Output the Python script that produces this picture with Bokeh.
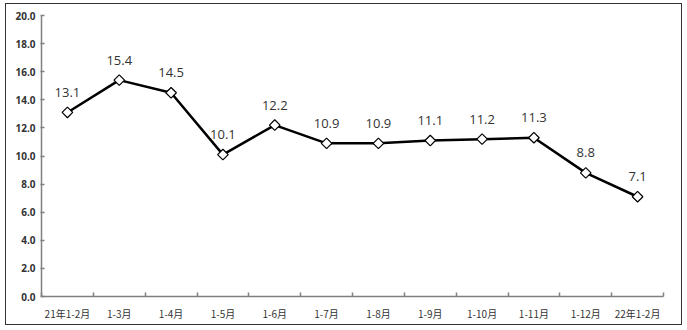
import math
from bokeh.plotting import figure
from bokeh.models import FixedTicker, Range1d, ColumnDataSource
from bokeh.embed import file_html
from bokeh.resources import INLINE
from bokeh.core.properties import value

categories = ["21年1-2月", "1-3月", "1-4月", "1-5月", "1-6月", "1-7月", "1-8月",
              "1-9月", "1-10月", "1-11月", "1-12月", "22年1-2月"]
values = [13.1, 15.4, 14.5, 10.1, 12.2, 10.9, 10.9, 11.1, 11.2, 11.3, 8.8, 7.1]
y_ticks = [0, 2, 4, 6, 8, 10, 12, 14, 16, 18, 20]

xs = [i + 0.5 for i in range(len(categories))]
labels = ["%.1f" % v for v in values]
src = ColumnDataSource(dict(x=xs, y=values, t=labels))

p = figure(width=677, height=322, output_backend="svg", toolbar_location=None,
           x_range=Range1d(0, len(categories)), y_range=Range1d(0, 20),
           min_border_left=35, min_border_right=20, min_border_top=11, min_border_bottom=30)
p.styles = {"margin-left": "5px", "margin-top": "3px", "border": "1.5px solid #333333"}
p.outline_line_color = None
p.grid.visible = False
p.background_fill_color = "white"

p.line("x", "y", source=src, line_color="black", line_width=2.5)
p.scatter("x", "y", source=src, marker="square", size=7.5, angle=math.pi / 4,
          fill_color="white", line_color="black", line_width=1.2)
p.text("x", "y", text="t", source=src, text_align="center", text_baseline="middle",
       y_offset=-20, text_font=value("Open Sans"), text_font_size="13px", text_color="#333333")

xa = p.xaxis[0]
xa.ticker = FixedTicker(ticks=xs, minor_ticks=list(range(len(categories) + 1)))
xa.major_label_overrides = {x: c for x, c in zip(xs, categories)}
xa.major_tick_line_color = None
xa.minor_tick_in = 4
xa.minor_tick_out = 0
xa.minor_tick_line_color = "#808080"
xa.minor_tick_line_width = 1.5
xa.axis_line_color = "#808080"
xa.axis_line_width = 1.5
xa.major_label_text_font = "Noto Sans CJK SC"
xa.major_label_text_font_size = "10px"
xa.major_label_text_color = "#333333"
xa.major_label_standoff = 3

ya = p.yaxis[0]
ya.ticker = FixedTicker(ticks=y_ticks)
ya.major_label_overrides = {t: "%.1f" % t for t in y_ticks}
ya.minor_tick_line_color = None
ya.major_tick_in = 3
ya.major_tick_out = 1
ya.major_tick_line_color = "#808080"
ya.major_tick_line_width = 1.5
ya.axis_line_color = "#808080"
ya.axis_line_width = 1.5
ya.major_label_text_font = "Noto Sans"
ya.major_label_text_font_size = "10px"
ya.major_label_text_font_style = "bold"
ya.major_label_text_color = "#333333"
ya.major_label_standoff = 5

open("out.html", "w").write(file_html(p, INLINE))
